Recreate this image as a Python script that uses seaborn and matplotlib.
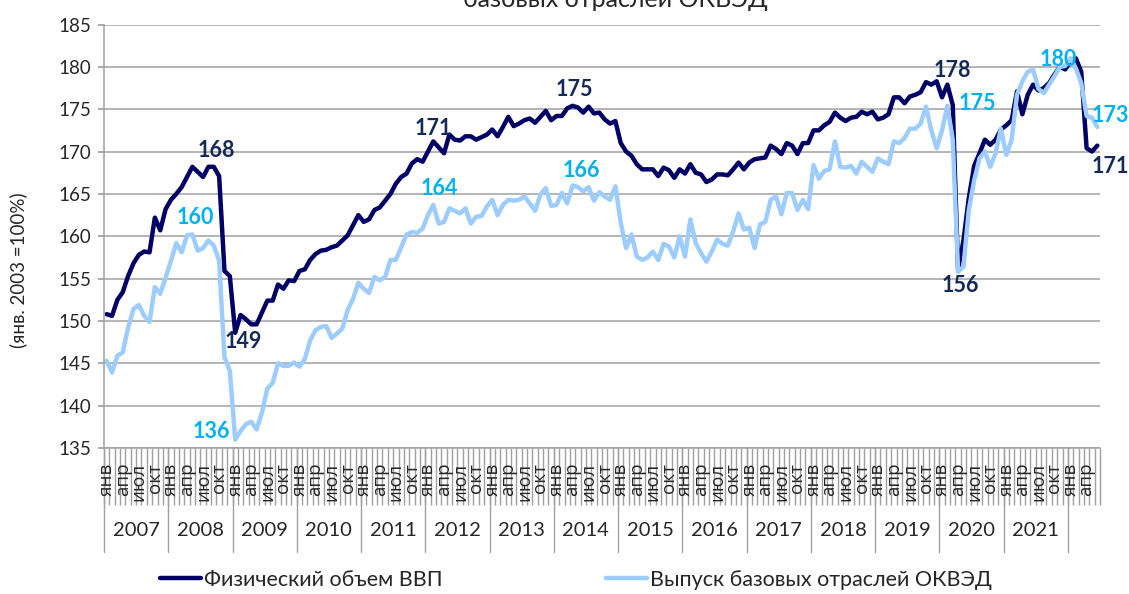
import numpy as np
import pandas as pd
import seaborn as sns
import matplotlib.pyplot as plt
from matplotlib.lines import Line2D

# monthly index, Jan 2007 .. Jun 2022 (янв. 2003 = 100%)
gdp = [
    150.8, 150.6, 152.5, 153.4, 155.3, 156.8, 157.8, 158.2, 158.1, 162.2, 160.7, 163.2,  # 2007
    164.3, 165.0, 165.8, 167.0, 168.2, 167.6, 167.0, 168.2, 168.2, 167.1, 155.9, 155.3,  # 2008
    148.6, 150.7, 150.2, 149.6, 149.6, 151.0, 152.4, 152.4, 154.3, 153.8, 154.8, 154.7,  # 2009
    155.9, 156.1, 157.2, 157.9, 158.3, 158.4, 158.7, 158.9, 159.5, 160.1, 161.3, 162.5,  # 2010
    161.7, 162.0, 163.1, 163.4, 164.2, 165.0, 166.2, 167.0, 167.4, 168.6, 169.1, 168.8,  # 2011
    170.0, 171.2, 170.5, 169.8, 172.0, 171.4, 171.3, 171.8, 171.8, 171.4, 171.7, 172.0,  # 2012
    172.6, 171.8, 172.9, 174.1, 173.0, 173.3, 173.7, 173.9, 173.4, 174.1, 174.8, 173.7,  # 2013
    174.2, 174.2, 175.1, 175.4, 175.2, 174.6, 175.3, 174.5, 174.6, 173.8, 173.3, 173.6,  # 2014
    171.0, 170.0, 169.5, 168.5, 167.9, 167.9, 167.9, 167.1, 168.1, 167.8, 166.9, 167.9,  # 2015
    167.4, 168.5, 167.5, 167.3, 166.4, 166.7, 167.3, 167.3, 167.2, 167.9, 168.7, 167.9,  # 2016
    168.7, 169.1, 169.2, 169.3, 170.7, 170.3, 169.7, 171.0, 170.7, 169.7, 171.0, 171.0,  # 2017
    172.5, 172.5, 173.1, 173.5, 174.6, 174.0, 173.6, 174.0, 174.1, 174.7, 174.4, 174.7,  # 2018
    173.8, 174.0, 174.4, 176.4, 176.4, 175.7, 176.5, 176.7, 177.0, 178.2, 177.9, 178.3,  # 2019
    176.4, 177.9, 175.5, 156.0, 159.5, 164.5, 168.3, 169.8, 171.4, 170.8, 171.4, 172.6,  # 2020
    173.1, 173.7, 177.1, 174.4, 176.7, 177.9, 177.2, 177.5, 178.1, 179.1, 180.0, 179.7,  # 2021
    180.7, 181.0, 179.4, 170.4, 170.0, 170.7,                                            # 2022
]
base = [
    145.3, 143.9, 145.9, 146.3, 149.2, 151.4, 151.9, 150.6, 149.9, 154.0, 153.2, 155.1,  # 2007
    157.1, 159.2, 158.1, 160.1, 160.2, 158.3, 158.6, 159.5, 158.9, 157.1, 145.7, 144.1,  # 2008
    136.0, 137.0, 137.8, 138.1, 137.2, 139.2, 142.0, 142.7, 145.0, 144.7, 144.7, 145.1,  # 2009
    144.6, 145.5, 147.7, 148.9, 149.3, 149.4, 148.0, 148.5, 149.1, 151.3, 152.6, 154.5,  # 2010
    153.8, 153.3, 155.2, 154.8, 155.2, 157.2, 157.2, 158.7, 160.2, 160.5, 160.4, 160.9,  # 2011
    162.5, 163.7, 161.5, 161.7, 163.3, 163.0, 162.7, 163.3, 161.5, 162.3, 162.4, 163.5,  # 2012
    164.3, 162.5, 163.7, 164.3, 164.2, 164.3, 164.7, 163.9, 163.0, 164.9, 165.7, 163.6,  # 2013
    163.7, 165.1, 163.9, 166.0, 165.8, 165.3, 165.8, 164.2, 165.2, 164.7, 164.3, 165.9,  # 2014
    161.6, 158.6, 160.2, 157.6, 157.2, 157.5, 158.2, 157.2, 159.1, 158.8, 157.5, 160.0,  # 2015
    157.6, 162.0, 159.2, 158.0, 157.0, 158.2, 159.6, 159.1, 158.9, 160.6, 162.7, 160.8,  # 2016
    161.0, 158.6, 161.4, 161.7, 164.3, 164.7, 162.6, 165.1, 165.1, 163.1, 164.3, 163.2,  # 2017
    168.4, 166.8, 167.7, 167.9, 171.2, 168.2, 168.1, 168.3, 167.4, 168.8, 168.2, 167.6,  # 2018
    169.2, 168.8, 168.5, 171.2, 171.0, 171.6, 172.7, 172.7, 173.3, 175.3, 172.5, 170.4,  # 2019
    172.5, 175.4, 171.4, 155.8, 156.4, 163.1, 166.6, 169.2, 170.0, 168.2, 169.8, 172.7,  # 2020
    169.6, 171.4, 176.7, 178.3, 179.4, 179.7, 177.4, 176.9, 177.9, 178.9, 180.0, 180.1,  # 2021
    181.0, 179.8, 178.1, 174.2, 174.0, 172.9,                                            # 2022
]
years = list(range(2007, 2022))
month_names = ['янв', 'фев', 'мар', 'апр', 'май', 'июн',
               'июл', 'авг', 'сен', 'окт', 'ноя', 'дек']
series_names = ['Физический объем ВВП', 'Выпуск базовых отраслей ОКВЭД']

# labelled points: (month index, label offset in points)
gdp_labels = [(20, (2, 12)), (24, (6, -6)), (61, (0, 9.5)), (87, (1.5, 11.5)),
              (155, (11, 8)), (159, (1.5, -11)), (185, (9.5, -15))]
base_labels = [(16, (2, 12.5)), (24, (-17, 5.5)), (61, (4, 11.5)), (87, (6.5, 11)),
               (157, (21.5, 1.5)), (179, (-5, 5)), (185, (9.5, 8))]

dark = '#000066'
light = '#9DCCFF'
dark_txt = '#14285A'
light_txt = '#00B0F0'
grid_c = '#A0A0A0'

n = len(gdp)
df = pd.DataFrame({
    'idx': list(range(n)) * 2,
    'value': gdp + base,
    'series': [series_names[0]] * n + [series_names[1]] * n,
})

sns.set_theme(style='white')
plt.rcParams['font.family'] = ['Lato', 'DejaVu Sans']

fig = plt.figure(figsize=(11.29, 5.94), dpi=100)
ax = fig.add_axes([104 / 1129, 146 / 594, 996 / 1129, 423.5 / 594])

sns.lineplot(data=df, x='idx', y='value', hue='series',
             palette=[dark, light], linewidth=3.2, legend=False, ax=ax)

ax.set_xlim(-0.5, n - 0.5)
ax.set_ylim(135, 185)
ax.set_yticks(range(135, 186, 5))
ax.yaxis.grid(True, color=grid_c, linewidth=1.1)
ax.set_axisbelow(True)
for s in ['top', 'right']:
    ax.spines[s].set_visible(False)
for s in ['left', 'bottom']:
    ax.spines[s].set_color(grid_c)
    ax.spines[s].set_linewidth(1.1)

ax.tick_params(axis='y', length=4, color=grid_c, labelsize=13.5, pad=5, left=True)

# category ticks (one per month) and month labels
ax.set_xticks([])
ax.set_xticks(np.arange(n + 1) - 0.5, minor=True)
ax.tick_params(axis='x', which='minor', length=41, color=grid_c, width=1, bottom=True)
ax.set_xlabel('')
ax.set_ylabel('(янв. 2003 =100%)', fontsize=13.5)
ax.yaxis.set_label_coords(-0.077, 0.42)

tr = ax.get_xaxis_transform()
for i in range(0, n, 3):
    ax.text(i, -0.035, month_names[i % 12], transform=tr, rotation=90,
            ha='center', va='top', fontsize=13.5, family=['Open Sans', 'DejaVu Sans'])

# year row
for k in range(len(years) + 1):
    ax.plot([12 * k - 0.5] * 2, [0, -0.245], transform=tr, color=grid_c,
            linewidth=1, clip_on=False)
for k, y in enumerate(years):
    ax.text(12 * k + 5.5, -0.194, str(y), transform=tr, ha='center', va='center',
            fontsize=14.5)

for i, off in gdp_labels:
    ax.annotate(f'{gdp[i]:.0f}', (i, gdp[i]), xytext=off, textcoords='offset points',
                ha='center', va='center', fontsize=15.5, fontweight='bold', color=dark_txt)
for i, off in base_labels:
    ax.annotate(f'{base[i]:.0f}', (i, base[i]), xytext=off, textcoords='offset points',
                ha='center', va='center', fontsize=15.5, fontweight='bold', color=light_txt)

fig.text(615 / 1129, 1 - 7 / 594, 'базовых отраслей ОКВЭД', ha='center', va='baseline',
         fontsize=18)

handles = [Line2D([], [], color=dark, linewidth=3.2), Line2D([], [], color=light, linewidth=3.2)]
fig.legend(handles, series_names, loc='center left', bbox_to_anchor=(160 / 1129, 14 / 594),
           ncol=2, frameon=False, fontsize=15.5, handlelength=1.9, handletextpad=0.15,
           columnspacing=7.6, borderpad=0, borderaxespad=0)

fig.savefig('out.png', dpi=100)
